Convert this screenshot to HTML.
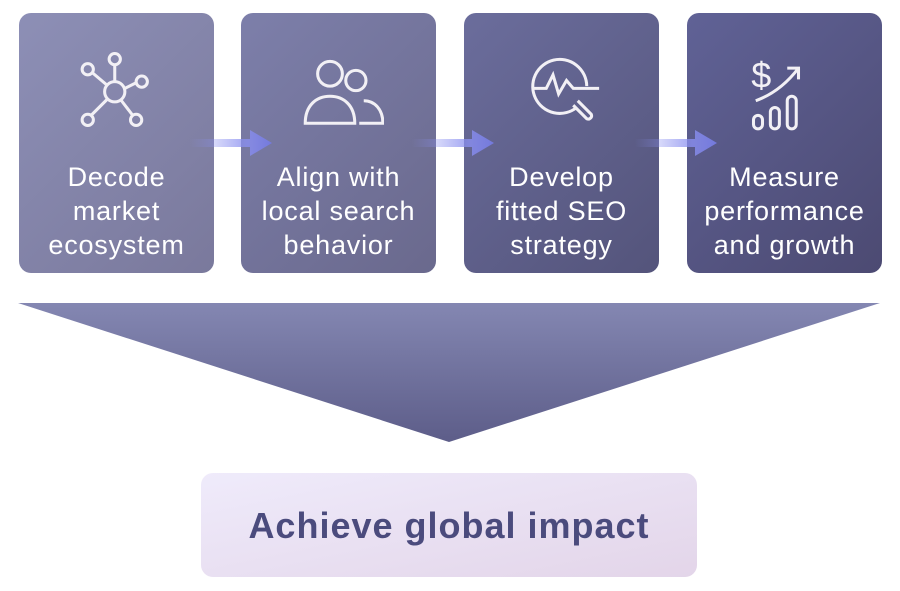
<!DOCTYPE html>
<html><head><style>
body{margin:0;width:900px;height:591px;background:#fff;position:relative;font-family:"Liberation Sans",sans-serif;overflow:hidden}
.b{position:absolute;top:13px;width:195px;height:260px;border-radius:12px;color:#fff;text-align:center}
.t{position:absolute;top:147px;left:-10px;right:-10px;font-size:27px;line-height:34px;letter-spacing:0.8px}
.ic{position:absolute;top:36px;left:50%;margin-left:-45px;width:90px;height:90px}
</style></head><body>
<div class="b" style="left:19px;background:linear-gradient(135deg,#8d8fb6,#7a799c)">
<svg class="ic" viewBox="0 0 80 80" fill="none" stroke="#f2f0f5" stroke-width="2.7"><circle cx="38" cy="38" r="9"/><circle cx="38" cy="9" r="5"/><circle cx="14" cy="18" r="5"/><circle cx="62" cy="29" r="5"/><circle cx="14" cy="63" r="5"/><circle cx="57" cy="63" r="5"/><path d="M38 14V29M18 21L31 32M57 30L47 35M17 59L31 45M54 59L44 46"/></svg>
<div class="t">Decode<br>market<br>ecosystem</div></div>
<div class="b" style="left:241px;background:linear-gradient(135deg,#7d7faa,#6a698d)">
<svg class="ic" viewBox="0 0 80 80" fill="none" stroke="#f2f0f5" stroke-width="2.7"><circle cx="32" cy="22" r="11"/><circle cx="55" cy="28" r="9"/><path d="M10 66C10 50 20 42 32 42C44 42 54 50 54 66Z"/><path d="M58 66H79C79 54 72 46 62 46"/></svg>
<div class="t">Align with<br>local search<br>behavior</div></div>
<div class="b" style="left:464px;background:linear-gradient(135deg,#6b6d9c,#54547b)">
<svg class="ic" viewBox="0 0 80 80" fill="none" stroke="#f2f0f5" stroke-width="2.7"><path d="M62 33A24 24 0 1 0 53 52"/><path d="M14 35H26L32 23L37 40L44 28L50 35H73"/><path d="M50 50L62 62A3 3 0 0 0 66 58L54 46"/></svg>
<div class="t">Develop<br>fitted SEO<br>strategy</div></div>
<div class="b" style="left:687px;background:linear-gradient(135deg,#606296,#4c4a72)">
<svg class="ic" viewBox="0 0 80 80" fill="none" stroke="#f2f0f5" stroke-width="2.7"><text x="10" y="34" font-family="Liberation Sans" font-size="32" fill="#f2f0f5" stroke="none">$</text><path d="M14 46Q36 38 52 17M42 17H52V27"/><rect x="12" y="59" width="8" height="12" rx="4"/><rect x="27" y="52" width="8" height="19" rx="4"/><rect x="42" y="42" width="8" height="29" rx="4"/></svg>
<div class="t">Measure<br>performance<br>and growth</div></div>
<svg style="position:absolute;left:0;top:0" width="900" height="591">
<defs><linearGradient id="a" x1="0" x2="1"><stop offset="0" stop-color="#8a8ff0" stop-opacity="0"/><stop offset="0.7" stop-color="#8a8ff0" stop-opacity="0.8"/><stop offset="1" stop-color="#7379dc"/></linearGradient>
<linearGradient id="tr" x1="0" y1="0" x2="0" y2="1"><stop offset="0" stop-color="#8487b2"/><stop offset="1" stop-color="#5d5d89"/></linearGradient>
<linearGradient id="bx" x1="0" y1="0" x2="1" y2="1"><stop offset="0" stop-color="#efebfb"/><stop offset="1" stop-color="#e3d5e9"/></linearGradient></defs>
<g fill="url(#a)"><path d="M190 139H250V130L272 143L250 156V147H190Z"/><path d="M412 139H472V130L494 143L472 156V147H412Z"/><path d="M635 139H695V130L717 143L695 156V147H635Z"/></g>
<path d="M18 303H880L449 442Z" fill="url(#tr)"/>
<rect x="201" y="473" width="496" height="104" rx="12" fill="url(#bx)"/>
<text x="449" y="538" text-anchor="middle" font-family="Liberation Sans" font-size="36" font-weight="bold" letter-spacing="1" fill="#4b4b7d">Achieve global impact</text>
</svg>
</body></html>
